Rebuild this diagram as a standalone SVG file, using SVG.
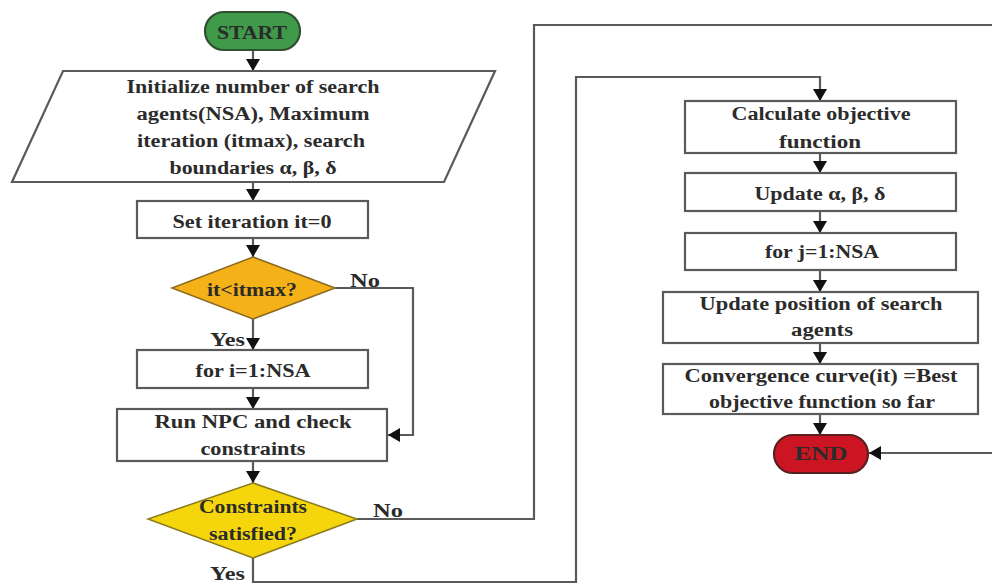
<svg xmlns="http://www.w3.org/2000/svg" width="992" height="584" viewBox="0 0 992 584">
  <style>
    .box { fill: #ffffff; stroke: #5a5a5a; stroke-width: 2.2; }
    .line { fill: none; stroke: #5a5a5a; stroke-width: 2.2; }
    .t { font-family: "Liberation Serif", "Times New Roman", serif; font-weight: bold; font-size: 18px; fill: #2b2b2b; text-anchor: middle; }
    .lbl { font-family: "Liberation Serif", "Times New Roman", serif; font-weight: bold; font-size: 18px; fill: #2b2b2b; }
  </style>
  <defs>
    <marker id="arrow" viewBox="0 0 12 14" refX="12" refY="7" markerWidth="12" markerHeight="14" markerUnits="userSpaceOnUse" orient="auto">
      <path d="M0,0 L12,7 L0,14 Z" fill="#111111"/>
    </marker>
  </defs>
  <rect width="992" height="584" fill="#ffffff"/>

  <!-- connectors -->
  <g id="connectors">
    <line class="line" x1="253" y1="50" x2="253" y2="71" marker-end="url(#arrow)"/>
    <line class="line" x1="253" y1="182" x2="253" y2="201" marker-end="url(#arrow)"/>
    <line class="line" x1="253" y1="238" x2="253" y2="257" marker-end="url(#arrow)"/>
    <line class="line" x1="253" y1="319" x2="253" y2="350" marker-end="url(#arrow)"/>
    <line class="line" x1="253" y1="388" x2="253" y2="409" marker-end="url(#arrow)"/>
    <line class="line" x1="253" y1="461" x2="253" y2="483" marker-end="url(#arrow)"/>
    <!-- it<itmax? : No -->
    <polyline class="line" points="335,288 413,288 413,435 388,435" marker-end="url(#arrow)"/>
    <!-- Constraints satisfied? : No -> END -->
    <polyline class="line" points="357,519 534,519 534,25 1000,25 1000,453 869,453" marker-end="url(#arrow)"/>
    <!-- Constraints satisfied? : Yes -> Calculate objective function -->
    <polyline class="line" points="253,558 253,582 576,582 576,77 820,77 820,101" marker-end="url(#arrow)"/>
    <line class="line" x1="820" y1="153" x2="820" y2="173" marker-end="url(#arrow)"/>
    <line class="line" x1="820" y1="211" x2="820" y2="233" marker-end="url(#arrow)"/>
    <line class="line" x1="820" y1="270" x2="820" y2="292" marker-end="url(#arrow)"/>
    <line class="line" x1="820" y1="343" x2="820" y2="364" marker-end="url(#arrow)"/>
    <line class="line" x1="820" y1="414" x2="820" y2="435" marker-end="url(#arrow)"/>
  </g>

  <!-- edge labels -->
  <text class="lbl" x="350" y="287" textLength="30" lengthAdjust="spacingAndGlyphs">No</text>
  <text class="lbl" x="210" y="346" textLength="35" lengthAdjust="spacingAndGlyphs">Yes</text>
  <text class="lbl" x="373" y="517" textLength="30" lengthAdjust="spacingAndGlyphs">No</text>
  <text class="lbl" x="210" y="580" textLength="35" lengthAdjust="spacingAndGlyphs">Yes</text>

  <g id="start">
    <rect x="205" y="12" width="95" height="38" rx="19" ry="19" fill="#3f9a4a" stroke="#2f4f30" stroke-width="2.2"/>
    <text class="t" x="252" y="39" textLength="70" lengthAdjust="spacingAndGlyphs">START</text>
  </g>

  <g id="init">
    <polygon class="box" points="63,71 495,71 444,182 12,182"/>
    <text class="t" x="253" y="93" textLength="253" lengthAdjust="spacingAndGlyphs">Initialize number of search</text>
    <text class="t" x="253" y="120" textLength="233" lengthAdjust="spacingAndGlyphs">agents(NSA), Maximum</text>
    <text class="t" x="251" y="147" textLength="228" lengthAdjust="spacingAndGlyphs">iteration (itmax), search</text>
    <text class="t" x="253" y="174" textLength="167" lengthAdjust="spacingAndGlyphs">boundaries α, β, δ</text>
  </g>

  <g id="set-iteration">
    <rect class="box" x="137" y="201" width="231" height="37"/>
    <text class="t" x="252" y="228" textLength="159" lengthAdjust="spacingAndGlyphs">Set iteration it=0</text>
  </g>

  <g id="check-itmax">
    <polygon points="253,257 335,288 253,319 172,288" fill="#f5b118" stroke="#8a6a20" stroke-width="1.5"/>
    <text class="t" x="252" y="296" textLength="90" lengthAdjust="spacingAndGlyphs">it&lt;itmax?</text>
  </g>

  <g id="for-i">
    <rect class="box" x="137" y="350" width="231" height="38"/>
    <text class="t" x="253" y="377" textLength="115" lengthAdjust="spacingAndGlyphs">for i=1:NSA</text>
  </g>

  <g id="run-npc">
    <rect class="box" x="117" y="409" width="270" height="52"/>
    <text class="t" x="253" y="428" textLength="197" lengthAdjust="spacingAndGlyphs">Run NPC and check</text>
    <text class="t" x="253" y="455" textLength="105" lengthAdjust="spacingAndGlyphs">constraints</text>
  </g>

  <g id="constraints-check">
    <polygon points="253,483 357,519 253,558 148,519" fill="#f5d60c" stroke="#8a7a20" stroke-width="1.5"/>
    <text class="t" x="253" y="513" textLength="108" lengthAdjust="spacingAndGlyphs">Constraints</text>
    <text class="t" x="253" y="540" textLength="88" lengthAdjust="spacingAndGlyphs">satisfied?</text>
  </g>

  <g id="calc-objective">
    <rect class="box" x="685" y="101" width="271" height="52"/>
    <text class="t" x="821" y="120" textLength="179" lengthAdjust="spacingAndGlyphs">Calculate objective</text>
    <text class="t" x="820" y="148" textLength="82" lengthAdjust="spacingAndGlyphs">function</text>
  </g>

  <g id="update-abd">
    <rect class="box" x="685" y="173" width="271" height="38"/>
    <text class="t" x="820" y="200" textLength="131" lengthAdjust="spacingAndGlyphs">Update α, β, δ</text>
  </g>

  <g id="for-j">
    <rect class="box" x="685" y="233" width="271" height="37"/>
    <text class="t" x="822" y="258" textLength="114" lengthAdjust="spacingAndGlyphs">for j=1:NSA</text>
  </g>

  <g id="update-position">
    <rect class="box" x="663" y="292" width="315" height="51"/>
    <text class="t" x="821" y="310" textLength="243" lengthAdjust="spacingAndGlyphs">Update position of search</text>
    <text class="t" x="822" y="336" textLength="62" lengthAdjust="spacingAndGlyphs">agents</text>
  </g>

  <g id="convergence">
    <rect class="box" x="663" y="364" width="315" height="50"/>
    <text class="t" x="821" y="382" textLength="273" lengthAdjust="spacingAndGlyphs">Convergence curve(it) =Best</text>
    <text class="t" x="822" y="408" textLength="226" lengthAdjust="spacingAndGlyphs">objective function so far</text>
  </g>

  <g id="end">
    <rect x="774" y="435" width="94" height="38" rx="19" ry="19" fill="#cc1522" stroke="#5a2020" stroke-width="2.2"/>
    <text class="t" x="821" y="460" textLength="53" lengthAdjust="spacingAndGlyphs">END</text>
  </g>
</svg>
